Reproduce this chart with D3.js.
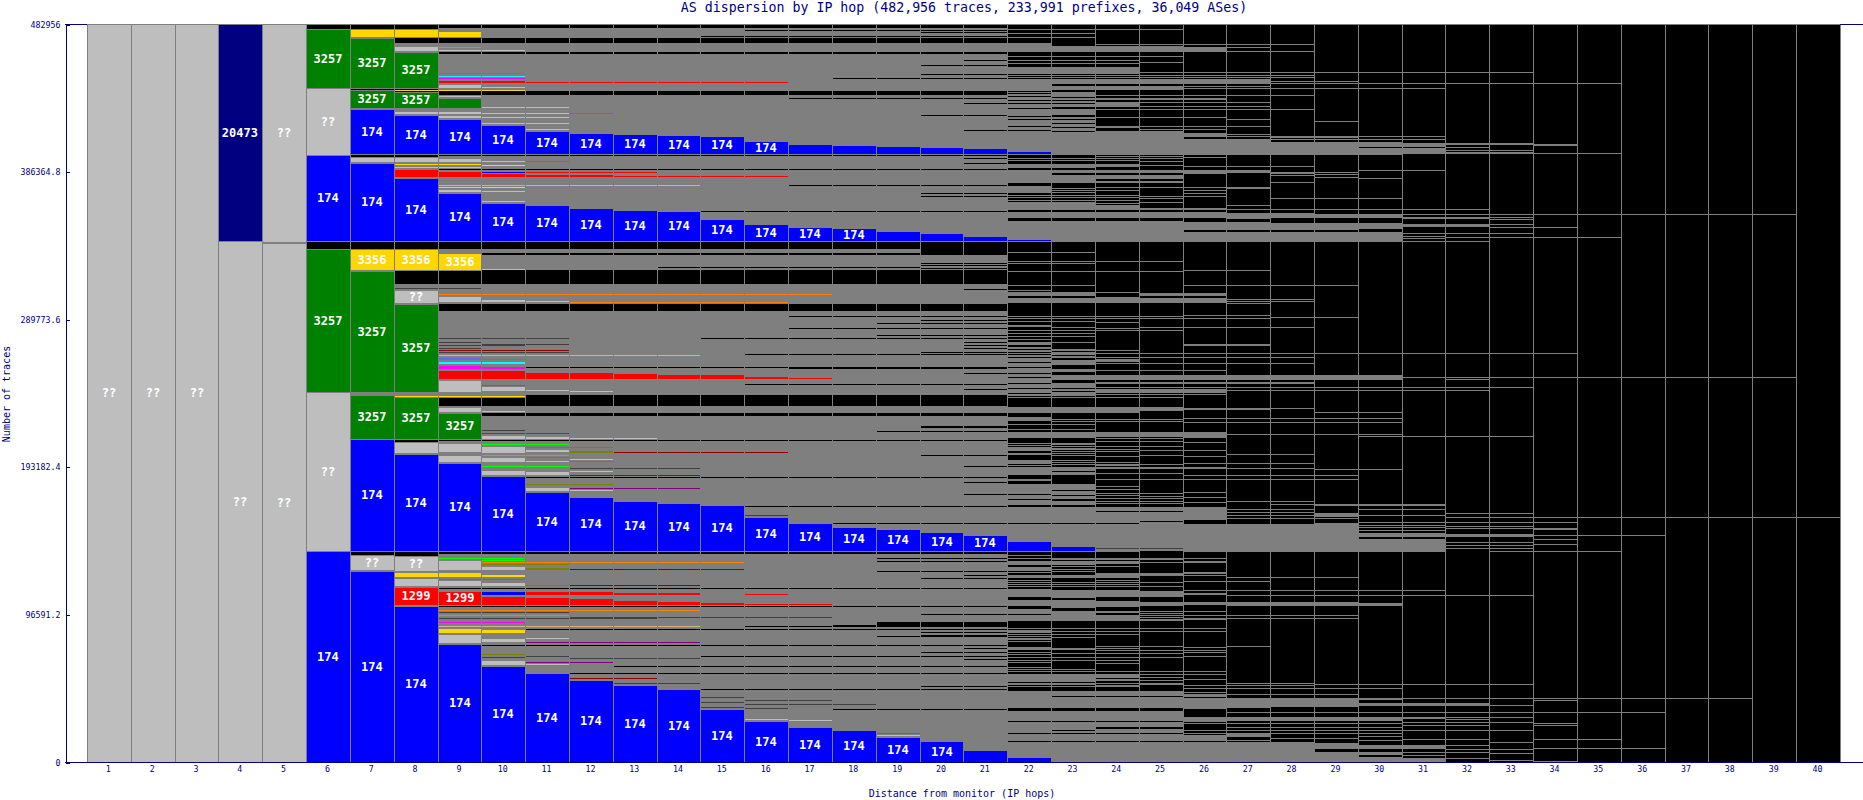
<!DOCTYPE html>
<head>
  <meta charset="utf-8">
  <script src="https://d3js.org/d3.v7.min.js"></script>
  <style>
    html, body { margin: 0; padding: 0; background: #fff; overflow: hidden; }
    svg { display: block; }
  </style>
</head>

<body>
  <div id="chart"></div>
</body>

<script>

// all band values below are in thousands of traces, hops are 1-based and inclusive
var hops = d3.range(1, 41);
var yTickLabels = ["0", "96591.2", "193182.4", "289773.6", "386364.8", "482956"];
var totalTraces = 482956;

var asColors = {
  "174": "#0000ff", "3257": "#008000", "3356": "#ffd700", "1299": "#ff0000",
  "20473": "#000080", "??": "#bebebe", violet: "#6666ff", cyan: "#00ffff",
  magenta: "#ff00ff", orange: "#ff7f00", tan: "#d2b48c", olive: "#808000",
  brown: "#8b0000", dark: "#404040", purple: "#800080", lime: "#00ff00"
};
var labelledAses = ["174", "3257", "3356", "1299", "20473", "??"];

// tops of the four blue AS174 stacks, first entry belongs to startHop
var blueStacks = [
  {startHop: 6, base: 0, tops: [138.1, 125, 102.3, 77.4, 63, 58.2, 53.7, 50.4, 47.8, 34.7, 26.8, 22.9, 20.9, 16.4, 13.7, 7.9, 3.3, 0.9, 0.3]},
  {startHop: 7, base: 138.1, tops: [211.2, 201.7, 195.7, 187.2, 176.7, 173.4, 170.8, 169.5, 168.2, 160.3, 156.4, 153.8, 152.5, 150.5, 148.5, 144.6, 141.4, 138.7]},
  {startHop: 6, base: 340.7, tops: [397.5, 392.2, 382.4, 372.4, 365.8, 364.5, 362.5, 361.2, 360.6, 355.3, 352.1, 350.1, 349.4, 347.5, 346.2, 344.2, 342.2]},
  {startHop: 7, base: 397.9, tops: [427.3, 423.4, 420.8, 416.9, 412.9, 411.6, 411, 410.3, 409.7, 406.4, 404.4, 403.8, 403.1, 402.5, 401.8, 399.8, 398.5]}
];

// [as, hi, lo, hopFrom, hopTo]
var firstHopBlocks = [
  ["??", 482.956, 0, 1, 3], ["20473", 482.956, 340.9, 4, 4], ["??", 340.9, 0, 4, 4],
  ["??", 482.956, 340.4, 5, 5], ["??", 339.6, 0, 5, 5],
  ["3257", 479.9, 441.1, 6, 6], ["??", 441.1, 397.5, 6, 6], ["3257", 336, 242.1, 6, 6], ["??", 242.1, 138.1, 6, 6]
];
var hop7Blocks = [
  ["3356", 479.7, 474.4, 7, 8], ["3257", 473.8, 441.1, 7, 7], ["3257", 439.8, 428, 7, 7], ["??", 395.9, 392.6, 7, 8],
  ["3356", 335.7, 322, 7, 8], ["3257", 321.6, 242.1, 7, 7], ["3257", 240.2, 211.4, 7, 7], ["??", 135.5, 125.6, 7, 7]
];
var hop8Blocks = [
  ["??", 468.6, 465.3, 8, 8], ["3257", 464.6, 441.1, 8, 8], ["3257", 438.4, 428, 8, 8], ["??", 426, 424.1, 8, 9],
  ["3356", 392, 390.7, 8, 8], ["??", 390, 388.7, 8, 9], ["1299", 388.1, 382.8, 8, 8], ["??", 308.9, 300.4, 8, 8],
  ["3257", 299.7, 242.1, 8, 8], ["3356", 240.2, 238.9, 8, 10], ["3257", 238.6, 211.4, 8, 8], ["??", 209.4, 202.2, 8, 8],
  ["??", 134.8, 125, 8, 8], ["3356", 124.3, 121.1, 8, 9], ["??", 120.4, 115.2, 8, 8], ["1299", 114.5, 102.7, 8, 8]
];
var hop9Blocks = [
  ["3356", 478.4, 474.4, 9, 9], ["??", 466.6, 465.3, 9, 9], ["1299", 446.3, 444.3, 9, 10], ["??", 443.7, 441.1, 9, 9],
  ["3257", 434.5, 428, 9, 9], ["??", 423.4, 421.4, 9, 9], ["??", 395.3, 392.6, 9, 9], ["1299", 386.8, 382.8, 9, 9],
  ["??", 375, 373, 9, 9], ["3356", 333.1, 322, 9, 9], ["??", 305, 301, 9, 9], ["??", 267, 265.7, 9, 9],
  ["violet", 265, 263.1, 9, 9], ["cyan", 262.4, 260.5, 9, 10], ["magenta", 259.8, 257.2, 9, 9], ["1299", 256.5, 250.6, 9, 10],
  ["??", 250, 242.1, 9, 9], ["??", 232.3, 229, 9, 9], ["3257", 228.4, 211.4, 9, 9], ["??", 208.8, 202.9, 9, 9],
  ["??", 200.9, 196.3, 9, 9], ["??", 132.2, 125.6, 9, 9], ["??", 119.1, 115.2, 9, 9], ["1299", 111.9, 102.7, 9, 9],
  ["3356", 87.7, 84.4, 9, 9], ["??", 83.8, 77.9, 9, 9]
];
var laterBlocks = [
  ["??", 425.4, 424.1, 10, 10], ["??", 422.7, 421.4, 10, 10], ["??", 418.8, 417.5, 10, 10],
  ["1299", 385.4, 382.8, 10, 10], ["1299", 384.8, 382.8, 11, 12], ["1299", 384.1, 382.8, 13, 13],
  ["??", 367.8, 366.5, 10, 10], ["??", 303, 301, 10, 10], ["violet", 264.4, 263.1, 10, 10],
  ["magenta", 259.1, 257.2, 10, 10], ["??", 246.1, 242.8, 10, 10], ["1299", 255.2, 250.6, 11, 12],
  ["1299", 254.6, 250.6, 13, 13], ["1299", 253.9, 250.6, 14, 15], ["1299", 252.6, 250.6, 16, 16], ["??", 244.1, 242.8, 11, 11],
  ["??", 214, 211.4, 10, 10], ["??", 206.8, 202.2, 10, 10], ["??", 199.6, 196.3, 10, 10], ["??", 191.1, 187.8, 10, 10],
  ["??", 213.3, 211.4, 11, 11], ["??", 204.8, 202.9, 11, 11], ["??", 197.6, 196.3, 11, 11], ["??", 190.4, 187.8, 11, 11],
  ["??", 180, 177.3, 11, 11], ["??", 212.7, 211.4, 12, 12], ["olive", 204.2, 202.2, 12, 12], ["brown", 203.5, 202.2, 13, 15],
  ["??", 128.3, 125.6, 10, 10], ["3356", 123, 121.1, 10, 10], ["??", 117.8, 115.2, 10, 10],
  ["174", 111.9, 109.3, 10, 10], ["1299", 108.6, 102.7, 10, 10], ["olive", 127.6, 125.6, 11, 11], ["olive", 116.5, 115.2, 11, 11],
  ["1299", 111.9, 109.3, 11, 12], ["1299", 108, 102.7, 11, 11], ["1299", 107.3, 102.7, 12, 12],
  ["1299", 111.2, 109.3, 13, 14], ["1299", 106, 102.7, 13, 13], ["1299", 105.4, 102.7, 14, 14],
  ["1299", 110.6, 109.9, 15, 15], ["1299", 104.7, 102.7, 15, 15], ["1299", 104, 102.7, 16, 16],
  ["3356", 87, 84.4, 10, 10], ["??", 81.1, 78.5, 10, 10], ["purple", 79.2, 77.9, 11, 13], ["??", 66.7, 63.5, 10, 10],
  ["dark", 69.4, 68.1, 10, 10], ["dark", 52.4, 51, 13, 13], ["dark", 38.6, 37.3, 16, 17], ["??", 28.8, 27.5, 16, 16]
];

// [as, value, hopFrom, hopTo], thin coloured flows one pixel high
var asLines = [
  ["3356", 439.8, 8, 10], ["orange", 467.9, 9, 9], ["??", 465.9, 10, 10], ["violet", 450.9, 9, 10], ["cyan", 448.9, 9, 10],
  ["magenta", 447.6, 9, 10], ["1299", 445.3, 11, 14], ["1299", 445, 15, 16], ["??", 441.7, 10, 10], ["??", 435.8, 9, 9],
  ["??", 428.6, 10, 11], ["??", 424.7, 11, 11], ["olive", 424.7, 12, 12], ["??", 422.1, 11, 11], ["??", 418.2, 11, 11], ["??", 414.2, 11, 11],
  ["3356", 391.3, 9, 9], ["??", 393.3, 10, 10], ["olive", 393.3, 11, 11], ["3356", 391, 10, 10], ["174", 386.1, 10, 10],
  ["1299", 386.1, 11, 12], ["1299", 386.4, 13, 13], ["1299", 383.5, 14, 16], ["tan", 377.6, 9, 14], ["3356", 376.3, 9, 10], ["??", 373.7, 10, 10],
  ["dark", 310.2, 8, 9], ["??", 322.6, 10, 10], ["orange", 306.3, 9, 17], ["orange", 301, 12, 16], ["??", 301.7, 11, 11],
  ["dark", 277.5, 9, 11], ["dark", 274.8, 9, 9], ["dark", 272.9, 9, 10], ["dark", 270.9, 9, 9], ["dark", 273.5, 10, 11],
  ["brown", 269.9, 9, 11], ["dark", 268.3, 9, 11], ["tan", 266.3, 10, 14], ["magenta", 246.7, 10, 10], ["1299", 251.3, 17, 17],
  ["??", 242.8, 12, 12], ["??", 229.7, 10, 10], ["dark", 217.3, 10, 10], ["1299", 215.3, 10, 11], ["lime", 208.1, 10, 11],
  ["lime", 200.6, 10, 11], ["lime", 193.4, 10, 11], ["olive", 206.1, 11, 12], ["olive", 199.6, 11, 11], ["olive", 181.6, 11, 12],
  ["??", 198.3, 12, 12], ["olive", 197, 12, 12], ["dark", 192.4, 12, 14], ["??", 190.4, 12, 12], ["purple", 188.1, 12, 14],
  ["purple", 179, 12, 14], ["??", 178, 12, 12], ["??", 212, 13, 13], ["dark", 161.6, 16, 16], ["brown", 202.9, 16, 16],
  ["lime", 133.5, 9, 10], ["lime", 131.9, 10, 10], ["orange", 130.9, 10, 15], ["olive", 129.6, 10, 11], ["olive", 119.8, 9, 10],
  ["brown", 126.3, 12, 15], ["brown", 115.8, 12, 14], ["1299", 109.9, 16, 16], ["1299", 103.4, 17, 17],
  ["orange", 99.5, 9, 14], ["dark", 98.2, 9, 11], ["lime", 96.5, 9, 11], ["dark", 94.2, 9, 13], ["dark", 94.9, 12, 17],
  ["magenta", 91.6, 9, 10], ["tan", 89, 9, 14], ["??", 81.1, 11, 11], ["purple", 78.5, 14, 14],
  ["olive", 70.7, 10, 10], ["dark", 69.4, 11, 11], ["dark", 68.1, 12, 14], ["purple", 65.4, 11, 12], ["??", 64.1, 11, 11],
  ["brown", 55, 12, 13], ["dark", 51.7, 14, 14], ["dark", 42.5, 15, 15], ["dark", 39, 15, 15], ["dark", 36.3, 15, 15],
  ["dark", 40.6, 16, 17], ["dark", 35.6, 16, 16], ["??", 27.8, 17, 17], ["dark", 38, 18, 18], ["magenta", 19, 19, 19], ["??", 17.7, 19, 19],
  ["dark", 140, 24, 25]
];

// [hi, lo, hopFrom, hopTo], grey masses of many tiny flows
var grayZones = [
  [480.3, 439.1, 9, 21], [436.5, 397.9, 9, 21], [396.6, 340.7, 9, 21], [336, 299.7, 9, 21],
  [295.1, 240.2, 9, 21], [238.2, 138.1, 9, 21], [136.1, 0, 9, 21],
  [470.7, 468.6, 8, 8], [428, 426, 8, 9], [312.8, 309, 8, 8], [242.1, 240.2, 7, 8],
  [438.4, 412.9, 22, 23], [272, 239.5, 22, 23]
];

// [hi, lo, hopFrom, hopTo], black flows over those grey masses
var blackBands = [
  [473.8, 470.7, 9, 21], [464.6, 463.3, 9, 21], [322, 312.8, 9, 21], [333.1, 331.8, 10, 21], [238.2, 233, 9, 21],
  [228.4, 226.4, 10, 21], [186.8, 186, 11, 21], [336, 333.1, 20, 21], [219.9, 218.6, 20, 21], [91.6, 88.3, 19, 21],
  [89.7, 88.3, 18, 18], [398, 396.6, 9, 21],
  [428.4, 427.1, 23, 23], [423.4, 421.9, 23, 23], [272.2, 270.3, 23, 23], [264.4, 263.1, 23, 23],
  [259.8, 257.2, 23, 23], [255.2, 253.3, 23, 23], [250, 248, 23, 23]
];

// [value, hopFrom, hopTo], one pixel black lines
var blackLines = [
  [479, 16, 21], [475.1, 15, 21], [477.5, 20, 21], [459.4, 21, 21], [456.1, 20, 21], [450.2, 20, 21], [447.4, 18, 21],
  [434.3, 17, 21], [431.1, 21, 21], [423.2, 20, 21], [413.4, 21, 21], [395.1, 21, 21], [391.8, 21, 21], [388.1, 9, 21],
  [377.6, 17, 21], [372.2, 20, 21], [370.6, 20, 21], [360.6, 15, 21], [323.9, 14, 19], [326.5, 20, 21], [325.2, 20, 21],
  [323.3, 20, 21], [309.5, 21, 21], [291.9, 17, 21], [289.2, 20, 21], [287.3, 19, 21], [284, 17, 21], [279.4, 19, 21],
  [277.5, 15, 21], [274.8, 21, 21], [272.9, 21, 21], [270.9, 21, 21], [268.3, 20, 21], [267, 16, 21], [258.8, 11, 21],
  [257.8, 17, 21], [254.6, 21, 21], [247.4, 16, 21], [244.1, 21, 21], [216.6, 19, 21], [210.4, 8, 21], [200.9, 20, 21],
  [193.7, 21, 21], [183.2, 21, 21], [175.4, 21, 21], [167.7, 16, 21], [156.2, 18, 21], [133.3, 19, 21], [131.5, 19, 21],
  [125, 19, 21], [122.4, 21, 21], [120.4, 20, 21], [113.9, 9, 21], [102.1, 9, 21], [96.7, 20, 21], [89.3, 16, 17],
  [87, 11, 21], [85.1, 20, 21], [83.1, 20, 21], [82.5, 19, 21], [76.6, 10, 21], [74.6, 21, 21], [72, 20, 21],
  [69.4, 15, 21], [67.4, 21, 21], [62.8, 13, 21], [58.2, 12, 21], [49.7, 20, 21], [47.8, 15, 21], [34.7, 18, 21],
  // hops 22 and 23
  [437.8, 22, 22], [435.6, 22, 22], [433, 22, 22], [431.4, 22, 22], [428, 22, 22], [422.9, 22, 22], [420.6, 22, 23],
  [416, 22, 22], [413.4, 22, 22], [435.4, 23, 23], [433.2, 23, 23], [431, 23, 23], [418, 23, 23], [415.8, 23, 23], [413.2, 23, 23],
  [272.2, 22, 22], [270.3, 22, 22], [268.3, 22, 22], [266.7, 22, 22], [265, 22, 22], [261.8, 22, 22], [258.5, 22, 22],
  [254.6, 22, 22], [251.9, 22, 22], [248, 22, 22], [244.8, 22, 23], [241.5, 22, 22], [269, 23, 23], [266.3, 23, 23], [242.8, 23, 23]
];

// [hi, lo, hopFrom, hopTo], grey masses in the tail
var grayBands = [
  [470.5, 464.8, 22, 22], [468.6, 464.8, 23, 25], [467.9, 464.8, 26, 26], [458.3, 457.6, 25, 25], [454.4, 450.2, 22, 24],
  [446.7, 443.7, 22, 27], [443.7, 439.3, 22, 22], [442.6, 439.8, 23, 25], [431, 428.4, 24, 24], [429.3, 428.4, 24, 27],
  [412.9, 397.2, 22, 25], [411.4, 408.8, 26, 26],
  [407.7, 397.2, 26, 27], [405.9, 397.2, 28, 29], [405.9, 402.7, 30, 30], [401.6, 397.2, 30, 30], [405.3, 402.7, 31, 31],
  [401.6, 397.9, 31, 31], [404.9, 403.5, 32, 33], [402.7, 401.6, 32, 32], [398.9, 397.9, 32, 33],
  [387.4, 384.8, 26, 26], [387.4, 385.2, 27, 27], [362.3, 361.2, 26, 26], [360.1, 355.8, 26, 26],
  [353.6, 348.1, 26, 26], [347, 340.5, 26, 30], [359, 355.3, 27, 27], [353.2, 348.1, 27, 27], [359, 355.8, 28, 28],
  [352.5, 348.1, 28, 29], [358.4, 355.8, 29, 30], [352.5, 348.8, 30, 30], [352.1, 349.9, 31, 32],
  // middle block
  [306.7, 305.2, 26, 26], [303.6, 300.2, 26, 26], [263.5, 262, 24, 24], [253.3, 250, 24, 30], [244.1, 241.3, 24, 26],
  [231.9, 230.4, 26, 27], [215.7, 212.9, 26, 26], [167.1, 158.4, 26, 26], [155.8, 137.6, 26, 29], [149.6, 147.5, 30, 31],
  [145.9, 137.6, 30, 31], [162.7, 160.5, 29, 29], [149.2, 147.5, 32, 33], [404.2, 403.2, 34, 34]
];

// [value, hopFrom, hopTo], one pixel grey lines over the black tail
var grayLines = [
  [479.5, 22, 25], [476.8, 22, 23], [474.2, 22, 23], [469.6, 24, 28], [467.9, 27, 27], [465.3, 27, 28], [462, 22, 25],
  [459.4, 22, 24], [457.6, 22, 24], [455, 22, 24], [451.3, 25, 33], [449.6, 22, 28], [448, 22, 28], [445.6, 28, 29],
  [444.1, 28, 35], [442.6, 26, 27], [440.8, 26, 31], [436.3, 24, 28], [434.7, 24, 26], [433.9, 24, 26], [432.1, 24, 27],
  [427.1, 24, 28], [422.3, 24, 26], [420.6, 27, 27], [419.7, 29, 29], [416.4, 24, 27], [415.3, 24, 24], [414.5, 25, 26],
  [413.1, 24, 25], [410.7, 27, 27], [409.7, 27, 27], [409.9, 28, 31], [408.8, 28, 29], [407.5, 28, 31], [400.5, 32, 33],
  [399.4, 32, 32], [395.7, 26, 26], [390.2, 26, 28], [386.3, 28, 29], [385.2, 28, 28], [384.1, 28, 28],
  [384.8, 29, 29], [382.6, 29, 29], [387.4, 30, 31], [382, 30, 30], [379.8, 28, 28], [376.5, 26, 27], [375.8, 27, 27],
  [374.3, 26, 26], [372.1, 26, 26], [370.6, 26, 26], [368.9, 28, 30], [364.5, 27, 27], [361.7, 27, 32],
  [358.6, 31, 33], [356.9, 31, 33], [355.8, 31, 32], [355.1, 33, 33], [352.1, 33, 33], [349.9, 33, 33], [346.4, 32, 33],
  [346, 31, 31], [344.2, 31, 31], [343.8, 32, 35], [342.7, 31, 31], [398.3, 34, 35], [358.4, 34, 39], [350.3, 34, 34],
  [341, 26, 32],
  // middle block
  [321.8, 26, 27], [311.9, 26, 29], [302.8, 27, 28],
  [301.9, 27, 28], [300.2, 27, 27], [292.5, 26, 27], [290.8, 26, 27], [291, 28, 29], [284.5, 26, 28],
  [273.5, 26, 27], [272.7, 26, 27], [269.6, 24, 24], [267.4, 24, 34],
  [265.2, 24, 28], [260.9, 24, 28], [256.5, 24, 26], [251.7, 31, 39], [250.4, 32, 32], [248.9, 24, 28], [247.8, 24, 28],
  [245.6, 24, 33], [243.4, 24, 32], [240.8, 24, 26], [239.1, 22, 25], [231.9, 28, 28], [229.2, 29, 30], [224.9, 26, 30], [222.7, 26, 30],
  [214.4, 27, 30], [213.3, 30, 33], [212.5, 26, 26], [209.2, 26, 26],
  [200.2, 26, 26], [195.9, 26, 26], [193.3, 26, 26], [204.2, 26, 26], [201.6, 27, 28], [195.5, 27, 28], [192.6, 26, 28], [191.5, 29, 30], [187.8, 26, 29], [185, 26, 29],
  [173.6, 26, 26], [170.4, 26, 26], [176.9, 26, 26],
  [170.8, 27, 28], [168.6, 28, 31], [165.4, 27, 28], [163.8, 27, 28], [161.6, 27, 28], [159.5, 27, 29], [156.6, 29, 29],
  [168.2, 29, 31], [165.4, 30, 31], [161.6, 30, 31], [157.3, 30, 33], [155.1, 30, 31], [153.6, 30, 31], [151.8, 30, 31],
  [162.7, 32, 33], [160.5, 32, 33], [154.4, 32, 33], [152.9, 32, 33], [144.2, 32, 33], [142, 32, 33], [139.8, 32, 33],
  [160.1, 34, 40], [148.3, 34, 36], [138.3, 33, 35], [156.8, 34, 34], [153.4, 34, 34], [152.3, 34, 34], [145.9, 34, 34],
  [142.4, 34, 34], [42.1, 34, 38], [32.9, 34, 36], [40.8, 34, 34], [25.3, 34, 34], [24.2, 34, 34], [15.1, 34, 35],
  [9.4, 34, 36], [0.7, 34, 34]
];

// lower parts of the tail columns, read one column at a time
var columnBands = {
  22: [[391.3, 388.5], [387.4, 378.7], [376.9, 372.6], [366.7, 361.2], [360.1, 355.8], [354.2, 340.5], [307.3, 305.1], [303.8, 300.1], [285.9, 284.4], [274.6, 272.9],
       [232.3, 228.6], [225.5, 222.9], [215.9, 211.8], [206.4, 203.5], [202.4, 200.7], [197.6, 195.2], [193, 187.6], [185, 184.1], [181.7, 175.6], [174.7, 172.3], [171.4, 168.4], [166.9, 156.6], [155.7, 138.1],
       [135.4, 135], [131.7, 129.1], [126.9, 125], [122.6, 120.4], [113.4, 107.7], [105.8, 102.1], [100.3, 97], [95.9, 92], [75.2, 73.1], [57.8, 52.3], [51.7, 50.1], [46.2, 35.5], [33.1, 26.8], [26.2, 19], [18.3, 13.7], [12.8, 0]],
  23: [[391.3, 388.9], [387.4, 385.2], [384.1, 378.7], [366.7, 361.2], [360.1, 355.8], [354.2, 340.5], [307.3, 305.1], [303.8, 300.1],
       [232.3, 228.6], [215.9, 211.8], [193, 190.4], [189.8, 187.6], [181.7, 178], [177.3, 174.7], [174.1, 172.3], [170.6, 168.4], [166.9, 156.6], [155.7, 138.1],
       [131.5, 129.1], [122.6, 120.4], [112.3, 107.3], [105.8, 100.8], [98.6, 96.4], [95.9, 92], [74.6, 73.1], [57.8, 52.3], [51.7, 50.1], [46.2, 43.2], [42.3, 35.5], [33.1, 26.8], [26.2, 21.1], [20.3, 19], [18.3, 13.7], [12.8, 0]],
  24: [[391.3, 389.6], [387.4, 385.2], [384.1, 381.5], [380.4, 379.1], [364.5, 361.2], [360.1, 355.8], [354.2, 340.5], [307.3, 306.7], [304.5, 300.1],
       [232.3, 228.6], [215.9, 212.9], [193, 191.5], [166.9, 164.2], [163.4, 156.6], [155.7, 138.1],
       [131.5, 129.5], [122.1, 120.4], [112.3, 108.2], [105.1, 101.4], [98.6, 97.7], [95.9, 92], [57.8, 55.2], [46.2, 43.2], [42.3, 35.5], [33.1, 26.8], [26.2, 22.9], [21.8, 19], [18.3, 13.7], [12.8, 0]],
  25: [[387.4, 385.2], [384.1, 381.5], [380.4, 379.1], [362.3, 361.2], [360.1, 355.8], [354.2, 340.5], [306.7, 305.1], [303.8, 300.1],
       [232.3, 229.5], [215.9, 212.9], [193, 191.5], [166.9, 164.2], [163.4, 157.9], [157, 156], [155.7, 138.1],
       [130.9, 130.2], [111.7, 108], [104.7, 102.1], [57.8, 56.7], [51.7, 50.1], [46.2, 43.2], [42.3, 35.5], [33.1, 26.8], [26.2, 22.9], [21.8, 19], [18.3, 13.7], [12.8, 0]],
  26: [[124.1, 123.2], [110.4, 109.3], [104.5, 102.7], [44.3, 42.5], [42.1, 35.6], [29.7, 26.4], [17.7, 13.7], [12.9, 0]],
  27: [[104.5, 102.3], [42.1, 35.6], [29.7, 27], [18.8, 16.6], [12.9, 0]],
  28: [[104.5, 102.3], [42.1, 36.2], [29.7, 27], [12.9, 0]],
  29: [[104.5, 102.3], [42.1, 36.2], [29.7, 27], [12.2, 8.5], [6.8, 0]],
  30: [[103.8, 102.3], [42.1, 40.6], [38.4, 36.6], [29.7, 27], [11.1, 8.5], [6.8, 4.6], [3.5, 0]],
  31: [[38.4, 36.6], [29.7, 28.1], [11.1, 8.5], [2.8, 0]],
  32: [[42.1, 41.2], [38.4, 36.6]],
  33: []
};
var columnLines = {
  22: [395.5, 393.9, 371, 369.5, 367.8, 333.5, 328.1, 326.3, 321.5, 312.1, 308.9, 292, 290.3, 288.8, 282.7, 280.9, 279, 276.8, 221, 218.1, 208.5, 207.2, 194.6,
       133.7, 127.8, 124.1, 118.9, 117.8, 116.2, 114.9, 87.9, 86.6, 85.7, 84.8, 84, 82.4, 81.3, 80.2, 78.9, 72, 70.4, 68.7, 66.9, 65.4, 62.1, 61, 59.5, 49.5],
  23: [395.5, 393.9, 375.4, 374.3, 372.8, 371, 369.5, 367.8, 333.5, 328.1, 326.3, 321.5, 312.1, 292, 290.3, 288.8, 284.6, 282.7, 280.9, 278.8, 274.6,
       224.7, 222.9, 221, 218.1, 209, 207.9, 206.8, 205.7, 204.6, 203.5, 202, 200.7, 197.6, 196.3, 195.2,
       133.7, 132.6, 128, 126.5, 125, 117.8, 116.2, 114.9, 87.9, 85.7, 84, 81.8, 71.3, 68.7, 66.5, 61, 59.5, 49.5],
  24: [396.5, 395.5, 393.9, 376.5, 374.3, 371, 369.5, 367.8, 365.6, 328.1, 321.5, 291.8, 290.3, 288.1, 284.2, 282.7,
       224.7, 222.9, 211.8, 210, 206.8, 205, 203.5, 200.2, 196.5, 195.2, 194.1, 188.9, 185.4, 180.6, 178.4, 176.2, 174.5, 172.7, 170.8, 169.3,
       133.7, 132.6, 128, 123.9, 123.2, 118.9, 117.8, 116.2, 114.9, 87.9, 85.7, 84, 75.9, 74.6, 73.1, 71.3, 68.7, 66.5, 64.8, 59.3, 54.3, 53.4, 51.7, 50.1, 49.5],
  25: [396.5, 395.5, 393.3, 390.7, 376.5, 370.6, 368.8, 366.7, 328.1, 321.5, 291.8, 290.8, 284.4, 282.7,
       224.7, 222.9, 211.8, 210, 206.8, 204.2, 200.7, 195.2, 188.9, 185.4, 176.2, 174.1, 172.7, 170.8, 169.3,
       133.7, 132.6, 123.9, 123.2, 122.1, 117.8, 114.9, 98.6, 97.5, 95.9, 94.9, 93.8, 92.7, 87.9, 85.7, 75.9, 73.1, 71.3, 68.7, 59.3, 55.6, 53.4],
  26: [133.7, 131.7, 130.7, 122.4, 118.4, 112.6, 98.8, 96.2, 94.4, 93.6, 87.5, 85.7, 75.5, 73.1, 71.8, 69.6, 59.5, 57.4, 54.1, 50.4, 48.2, 46, 35.1, 25.3, 20.9, 18.8],
  27: [120.8, 118.7, 112.6, 109.3, 96.2, 94.4, 75.7, 51.5, 50.4, 48.2, 44.3, 32.9, 25.3, 23.1, 20.9, 14.4],
  28: [120.8, 112.6, 109.3, 96.2, 94.4, 51.5, 50.4, 48.2, 44.3, 32.9, 25.3, 23.1, 20.9, 18.8, 15.9],
  29: [120.8, 112.6, 109.3, 96.2, 94.4, 50.8, 48.2, 44.5, 32.9, 25.7, 23.1, 20.9, 18.8, 15.9],
  30: [112.6, 109.3, 50.8, 48.6, 32.9, 25.3, 23.1, 20.9, 18.8, 17.2, 14.4],
  31: [112.6, 109.3, 50.8, 42.1, 32.9, 26.4, 24.2, 20.9, 15, 6.3, 4.6],
  32: [109.3, 50.8, 32.9, 29.7, 28.1, 26.4, 24.2, 20.9, 15, 11.1, 8.5, 6.3, 2.8],
  33: [109.3, 50.8, 42.1, 37.3, 32.9, 29.7, 26.4, 20.9, 13.3, 8.5, 5.7, 1.3]
};

var width = 1863, height = 800;
var grid = "#7f7f7f", navy = "#000080", mono = "'DejaVu Sans Mono', monospace";

var svg = d3.select("#chart")
  .append("svg")
    .attr("width", width)
    .attr("height", height)
    .style("background", "#fff");

var x = d3.scaleBand().domain(hops).range([86.9, 1839.9]);
var yScale = d3.scaleLinear().domain([0, totalTraces]).range([762, 24]);

function y(k) { return Math.round(yScale(k * 1000)); }
function left(hop) { return Math.round(x(hop)); }
function right(hop) { return Math.round(x(hop) + x.bandwidth()); }

// one row per hop out of a [.., hopFrom, hopTo] row
function spread(rows, make) {
  return rows.flatMap(function(r) {
    return d3.range(r[r.length - 2], r[r.length - 1] + 1).map(function(hop) { return make(r, hop); });
  });
}

var bands = spread(grayZones, function(r, hop) { return {hi: r[0], lo: r[1], hop: hop}; })
  .concat(spread(grayBands, function(r, hop) { return {hi: r[0], lo: r[1], hop: hop}; }));
d3.range(22, 34).forEach(function(hop) {
  columnBands[hop].forEach(function(b) { bands.push({hi: b[0], lo: b[1], hop: hop}); });
});

var thinGray = spread(grayLines, function(r, hop) { return {v: r[0], hop: hop}; });
d3.range(22, 34).forEach(function(hop) {
  columnLines[hop].forEach(function(v) { thinGray.push({v: v, hop: hop}); });
});

var blocks = spread(firstHopBlocks.concat(hop7Blocks, hop8Blocks, hop9Blocks, laterBlocks), function(r, hop) {
  return {as: r[0], hi: r[1], lo: r[2], hop: hop};
});
blueStacks.forEach(function(s) {
  s.tops.forEach(function(top, i) { blocks.push({as: "174", hi: top, lo: s.base, hop: s.startHop + i}); });
});

// the tail columns are black, everything else is painted over them
svg.append("g").selectAll("rect")
  .data(hops.filter(function(h) { return h >= 6; }))
  .join("rect")
    .attr("x", left)
    .attr("y", y(totalTraces / 1000))
    .attr("width", function(h) { return right(h) - left(h); })
    .attr("height", y(0) - y(totalTraces / 1000))
    .attr("fill", "#000");

function fillBands(data, color) {
  svg.append("g").attr("shape-rendering", "crispEdges").selectAll("rect")
    .data(data)
    .join("rect")
      .attr("x", function(d) { return left(d.hop); })
      .attr("y", function(d) { return y(d.hi); })
      .attr("width", function(d) { return right(d.hop) - left(d.hop); })
      .attr("height", function(d) { return Math.max(1, y(d.lo) - y(d.hi)); })
      .attr("fill", color);
}

function fillLines(data, color) {
  svg.append("g").attr("shape-rendering", "crispEdges").selectAll("rect")
    .data(data)
    .join("rect")
      .attr("x", function(d) { return left(d.hop); })
      .attr("y", function(d) { return y(d.v); })
      .attr("width", function(d) { return right(d.hop) - left(d.hop); })
      .attr("height", 1)
      .attr("fill", color);
}

fillBands(bands, grid);
fillBands(spread(blackBands, function(r, hop) { return {hi: r[0], lo: r[1], hop: hop}; }), "#000");
fillLines(spread(blackLines, function(r, hop) { return {v: r[0], hop: hop}; }), "#000");
fillLines(thinGray, grid);

// AS flows with their grey outline
svg.append("g").attr("shape-rendering", "crispEdges").selectAll("rect")
  .data(blocks)
  .join("rect")
    .attr("x", function(d) { return left(d.hop) + 0.5; })
    .attr("y", function(d) { return y(d.hi) + 0.5; })
    .attr("width", function(d) { return right(d.hop) - left(d.hop); })
    .attr("height", function(d) { return y(d.lo) - y(d.hi); })
    .attr("fill", function(d) { return asColors[d.as]; })
    .attr("stroke", grid);

svg.append("g").attr("shape-rendering", "crispEdges").selectAll("rect")
  .data(spread(asLines, function(r, hop) { return {as: r[0], v: r[1], hop: hop}; }))
  .join("rect")
    .attr("x", function(d) { return left(d.hop) + 1; })
    .attr("y", function(d) { return y(d.v); })
    .attr("width", function(d) { return right(d.hop) - left(d.hop) - 1; })
    .attr("height", 1)
    .attr("fill", function(d) { return asColors[d.as]; });

// column borders and the top edge
svg.append("g").attr("shape-rendering", "crispEdges").selectAll("line")
  .data(hops.concat([41]))
  .join("line")
    .attr("x1", function(h) { return (h > 40 ? right(40) : left(h)) + 0.5; })
    .attr("x2", function(h) { return (h > 40 ? right(40) : left(h)) + 0.5; })
    .attr("y1", y(totalTraces / 1000))
    .attr("y2", y(0))
    .attr("stroke", grid);
svg.append("line")
  .attr("x1", left(1)).attr("x2", right(40))
  .attr("y1", y(totalTraces / 1000) + 0.5).attr("y2", y(totalTraces / 1000) + 0.5)
  .attr("stroke", grid)
  .attr("shape-rendering", "crispEdges");

// AS names on the flows that are tall enough
svg.append("g").selectAll("text")
  .data(blocks.filter(function(d) { return labelledAses.indexOf(d.as) >= 0 && y(d.lo) - y(d.hi) >= 13; }))
  .join("text")
    .attr("x", function(d) { return left(d.hop) + x.bandwidth() / 2; })
    .attr("y", function(d) { return (y(d.lo) + y(d.hi)) / 2 + 4; })
    .attr("text-anchor", "middle")
    .attr("fill", "#fff")
    .style("font", "bold 12px " + mono)
    .text(function(d) { return d.as; });

// axes
var yAxis = d3.axisLeft(yScale)
  .tickValues(yTickLabels.map(Number))
  .tickFormat(function(d, i) { return yTickLabels[i]; })
  .tickSizeInner(-4)
  .tickSizeOuter(0)
  .tickPadding(5);
var gy = svg.append("g").attr("transform", "translate(65.5,0.5)").call(yAxis);
gy.selectAll("text").attr("fill", navy).style("font", "8.3px " + mono);
gy.selectAll("line, path").attr("stroke", navy).attr("shape-rendering", "crispEdges");

var xAxis = d3.axisBottom(x).tickSize(0).tickPadding(4);
var gx = svg.append("g").attr("transform", "translate(-0.5,762.5)").call(xAxis);
gx.select("path").remove();
gx.selectAll("text").attr("fill", navy).style("font", "8.3px " + mono);

// navy frame parts outside the columns
var frame = [[65, 1863, 762.5, 762.5], [65, 87, 24.5, 24.5], [1840, 1863, 24.5, 24.5]];
svg.append("g").attr("shape-rendering", "crispEdges").selectAll("line")
  .data(frame)
  .join("line")
    .attr("x1", function(d) { return d[0]; })
    .attr("x2", function(d) { return d[1]; })
    .attr("y1", function(d) { return d[2]; })
    .attr("y2", function(d) { return d[3]; })
    .attr("stroke", navy);

svg.append("text")
  .attr("x", 964).attr("y", 12)
  .attr("text-anchor", "middle")
  .attr("fill", navy)
  .style("font", "13.25px " + mono)
  .text("AS dispersion by IP hop (482,956 traces, 233,991 prefixes, 36,049 ASes)");

svg.append("text")
  .attr("x", 962).attr("y", 797)
  .attr("text-anchor", "middle")
  .attr("fill", navy)
  .style("font", "10px " + mono)
  .text("Distance from monitor (IP hops)");

svg.append("text")
  .attr("transform", "translate(10,394) rotate(-90)")
  .attr("text-anchor", "middle")
  .attr("fill", navy)
  .style("font", "10px " + mono)
  .text("Number of traces");

</script>
